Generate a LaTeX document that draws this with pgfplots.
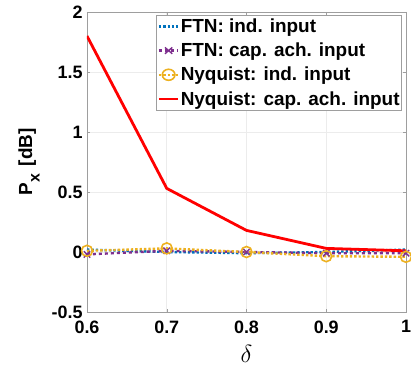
\documentclass[border=0pt]{standalone}
\usepackage{pgfplots}
\pgfplotsset{compat=1.18}
\usepackage{fontspec}
\setmainfont{Liberation Sans}
\definecolor{mblue}{rgb}{0,0.447,0.741}
\definecolor{mpurple}{rgb}{0.494,0.184,0.556}
\definecolor{myellow}{rgb}{0.929,0.694,0.125}
\definecolor{axgray}{gray}{0.62}
\begin{document}
\begin{tikzpicture}
\path[use as bounding box] (-87bp,-55bp) rectangle (324bp,312bp);
\begin{axis}[
  at={(0,0)}, anchor=south west,
  scale only axis, width=319bp, height=300bp,
  xmin=0.6, xmax=1, ymin=-0.5, ymax=2,
  xtick={0.6,0.7,0.8,0.9,1}, xticklabels={0.6,0.7,0.8,0.9,1},
  ytick={-0.5,0,0.5,1,1.5,2}, yticklabels={-0.5,0,0.5,1,1.5,2},
  tick label style={font=\fontsize{18}{20}\selectfont\bfseries},
  xticklabel style={yshift=-5bp},
  yticklabel style={xshift=-1bp},
  tick align=inside, major tick length=3bp,
  axis line style={axgray, line width=0.6pt},
  every tick/.style={axgray},
  grid=major, major grid style={gray!15, line width=0.5pt},
  xlabel={$\delta$}, xlabel style={font=\fontsize{23}{25}\selectfont, at={(axis description cs:0.5,-0.14)}, anchor=center},
  ylabel={\bfseries P\kern1bp\raisebox{-0.4em}{\fontsize{16}{16}\selectfont x}\kern2bp\ [dB]},
  ylabel style={font=\fontsize{19}{20}\selectfont, at={(axis description cs:-0.182,0.5)}, anchor=center},
  legend style={at={(rel axis cs:0.987,0.99)}, anchor=north east,
    font=\fontsize{19}{21}\selectfont\bfseries, draw=axgray, line width=0.6pt,
    inner xsep=1bp, inner ysep=1.5bp, row sep=5bp, fill=white,
    nodes={inner xsep=1bp}},
  legend cell align=left,
  legend image post style={xscale=1.15},
]
\addplot[mblue, dotted, line width=2.4pt] coordinates {(0.6,0.02) (0.7,0.0) (0.8,-0.01) (0.9,0.0) (1.0,0.02)};
\addlegendentry{FTN: ind. input}
\addplot[mpurple, dashed, line width=2.4pt, mark=x, mark size=4.5bp, mark options={solid, line width=1.4pt}] coordinates {(0.6,-0.02) (0.7,0.01) (0.8,0.0) (0.9,-0.01) (1.0,-0.01)};
\addlegendentry{FTN: cap. ach. input}
\addplot[myellow, dotted, line width=2.4pt, mark=o, mark size=5.5bp, mark options={solid, line width=1.6pt}] coordinates {(0.6,0.01) (0.7,0.03) (0.8,0.0) (0.9,-0.035) (1.0,-0.04)};
\addlegendentry{Nyquist: ind. input}
\addplot[red, solid, line width=2.8pt] coordinates {(0.6,1.80) (0.7,0.53) (0.8,0.18) (0.9,0.03) (1.0,0.01)};
\addlegendentry{Nyquist: cap. ach. input}
\end{axis}
\end{tikzpicture}
\end{document}
